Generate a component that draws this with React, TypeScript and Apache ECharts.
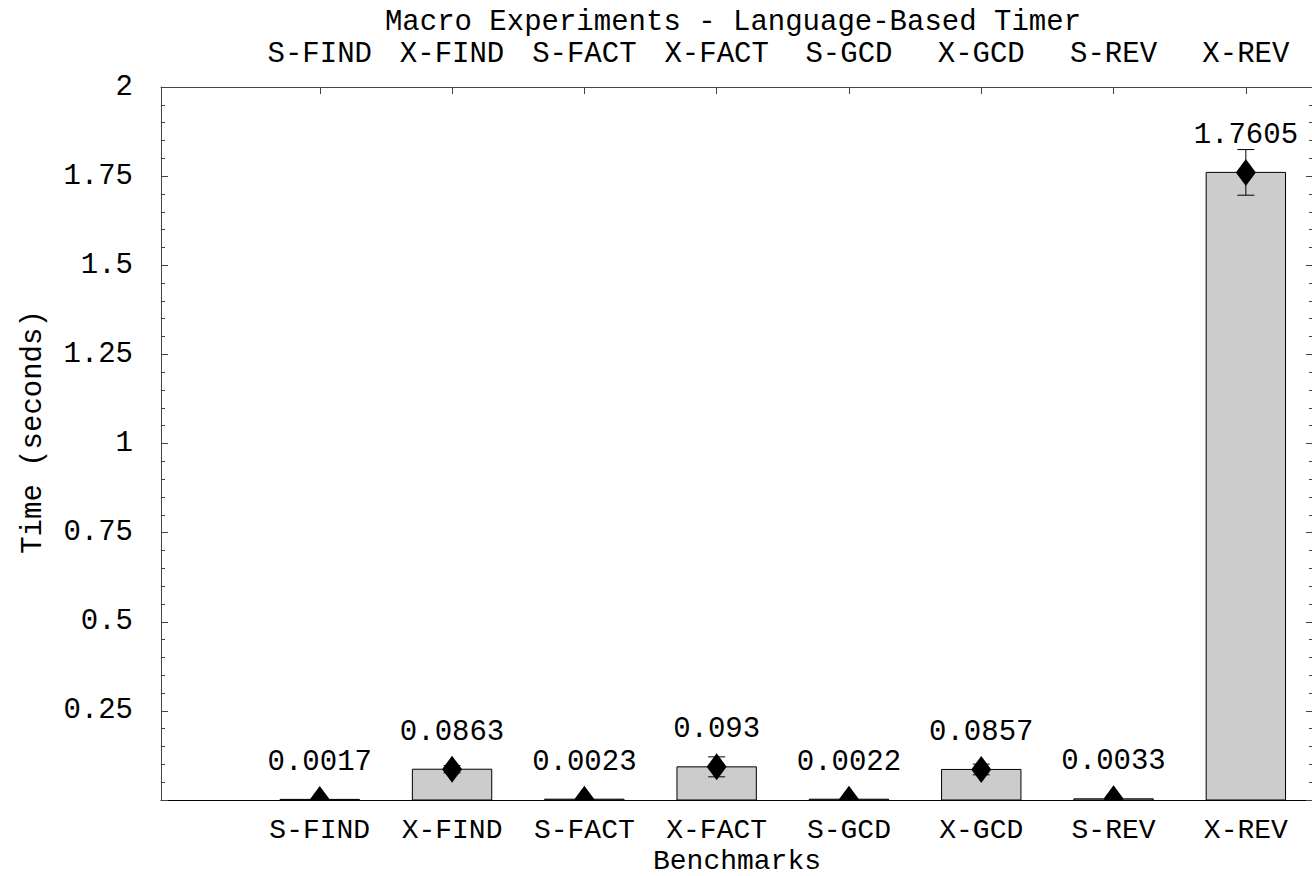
import React, { useEffect, useRef } from "react";
import * as echarts from "echarts";

const categories = ["S-FIND", "X-FIND", "S-FACT", "X-FACT", "S-GCD", "X-GCD", "S-REV", "X-REV"];
const positions = [1, 2, 3, 4, 5, 6, 7, 8];
const times = [0.0017, 0.0863, 0.0023, 0.093, 0.0022, 0.0857, 0.0033, 1.7605];
const errors = [0.001, 0.01, 0.001, 0.028, 0.001, 0.015, 0.001, 0.064];
const valueLabels = ["0.0017", "0.0863", "0.0023", "0.093", "0.0022", "0.0857", "0.0033", "1.7605"];

const FONT = "Liberation Mono";
const FS = 29;
const FS_BOTTOM = 28;

export default function App() {
  const ref = useRef<HTMLDivElement>(null);
  useEffect(() => {
    const chart = echarts.init(ref.current!, undefined, { renderer: "svg" });
    const data = positions.map((p, i) => [p, times[i], errors[i], i]);
    const labelStyle = { fontFamily: FONT, fontSize: FS, color: "#000" };
    chart.setOption({
      animation: false,
      backgroundColor: "#fff",
      grid: { left: 161, top: 87, right: -2, bottom: 76, containLabel: false },
      xAxis: [
        {
          type: "value",
          min: -0.2,
          max: 8.5,
          position: "bottom",
          axisLine: { show: true, onZero: false, lineStyle: { color: "#000", width: 1 } },
          axisTick: { show: false },
          splitLine: { show: false },
          axisLabel: {
            ...labelStyle,
            fontSize: FS_BOTTOM,
            customValues: positions,
            formatter: (v: number) => categories[Math.round(v) - 1] ?? "",
            margin: 30,
            verticalAlign: "middle",
          },
        },
        {
          type: "value",
          min: -0.2,
          max: 8.5,
          position: "top",
          axisLine: { show: true, onZero: false, lineStyle: { color: "#444", width: 1 } },
          axisTick: { show: true, inside: true, length: 7, customValues: positions, lineStyle: { color: "#444" } },
          splitLine: { show: false },
          axisLabel: {
            ...labelStyle,
            customValues: positions,
            formatter: (v: number) => categories[Math.round(v) - 1] ?? "",
            margin: 33,
            verticalAlign: "middle",
          },
        },
      ],
      yAxis: [
        {
          type: "value",
          min: 0,
          max: 2,
          interval: 0.25,
          position: "left",
          axisLine: { show: true, onZero: false, lineStyle: { color: "#444", width: 1 } },
          axisTick: { show: true, inside: true, length: 7, lineStyle: { color: "#444" } },
          minorTick: { show: true, splitNumber: 5, length: 4, lineStyle: { color: "#444" } },
          splitLine: { show: false },
          axisLabel: {
            ...labelStyle,
            margin: 28,
            formatter: (v: number) => (v === 0 ? "" : String(v)),
          },
        },
        {
          type: "value",
          min: 0,
          max: 2,
          interval: 0.25,
          position: "right",
          axisLine: { show: true, onZero: false, lineStyle: { color: "#444", width: 1 } },
          axisTick: { show: true, inside: true, length: 6, lineStyle: { color: "#444" } },
          minorTick: { show: true, splitNumber: 5, length: 3, lineStyle: { color: "#444" } },
          splitLine: { show: false },
          axisLabel: { show: false },
        },
      ],
      graphic: [
        {
          type: "text",
          x: 733,
          y: 22,
          style: { text: "Macro Experiments - Language-Based Timer", font: `${FS}px '${FONT}'`, fill: "#000", align: "center", verticalAlign: "middle" },
        },
        {
          type: "text",
          x: 737,
          y: 861,
          style: { text: "Benchmarks", font: `${FS_BOTTOM}px '${FONT}'`, fill: "#000", align: "center", verticalAlign: "middle" },
        },
        {
          type: "text",
          x: 33,
          y: 432,
          rotation: Math.PI / 2,
          style: { text: "Time (seconds)", font: `${FS}px '${FONT}'`, fill: "#000", align: "center", verticalAlign: "middle" },
        },
      ],
      series: [
        {
          type: "custom",
          xAxisIndex: 0,
          yAxisIndex: 0,
          clip: true,
          data,
          renderItem: (params: any, api: any) => {
            const x = api.value(0);
            const y = api.value(1);
            const e = api.value(2);
            const idx = api.value(3);
            const [cx, cy] = api.coord([x, y]);
            const [x0, y0] = api.coord([x - 0.3, 0]);
            const [x1] = api.coord([x + 0.3, 0]);
            const yt = api.coord([x, y + e])[1];
            const yb = api.coord([x, y - e])[1];
            return {
              type: "group",
              children: [
                {
                  type: "rect",
                  shape: { x: x0, y: cy, width: x1 - x0, height: y0 - cy },
                  style: { fill: "#cccccc", stroke: "#000", lineWidth: 1 },
                },
                { type: "line", shape: { x1: cx, y1: yt, x2: cx, y2: yb }, style: { stroke: "#000", lineWidth: 1 } },
                { type: "line", shape: { x1: cx - 8.5, y1: yt, x2: cx + 8.5, y2: yt }, style: { stroke: "#000", lineWidth: 1 } },
                { type: "line", shape: { x1: cx - 8.5, y1: yb, x2: cx + 8.5, y2: yb }, style: { stroke: "#000", lineWidth: 1 } },
                {
                  type: "polygon",
                  shape: { points: [[cx, cy - 13.5], [cx + 10, cy], [cx, cy + 13.5], [cx - 10, cy]] },
                  style: { fill: "#000" },
                },
                {
                  type: "text",
                  x: cx,
                  y: cy - 37,
                  style: { text: valueLabels[idx], font: `${FS}px '${FONT}'`, fill: "#000", align: "center", verticalAlign: "middle" },
                },
              ],
            };
          },
        },
      ],
    });
    return () => chart.dispose();
  }, []);
  return <div ref={ref} style={{ position: "fixed", left: 0, top: 0, width: 1312, height: 876 }} />;
}
